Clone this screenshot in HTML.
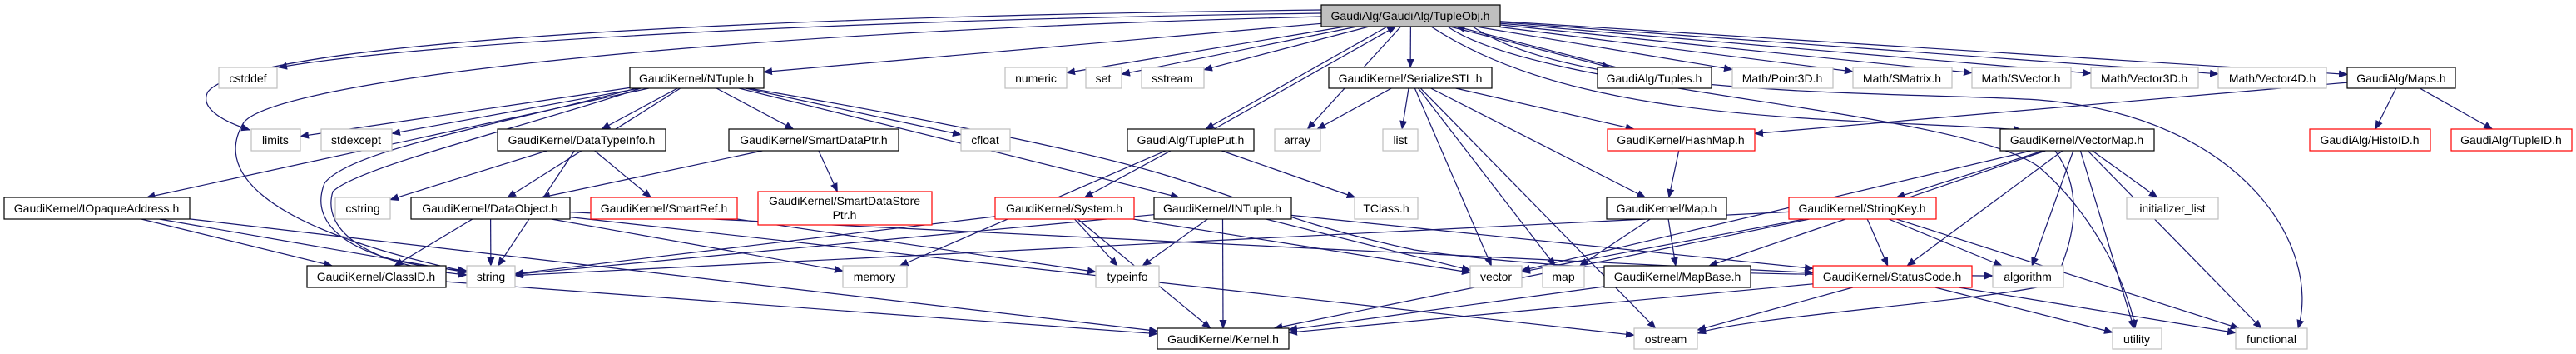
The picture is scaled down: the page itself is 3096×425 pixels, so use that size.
<!DOCTYPE html>
<html><head><meta charset="utf-8">
<style>
html,body{margin:0;padding:0;background:#fff;}
svg{display:block;}
text{font-family:"Liberation Sans","DejaVu Sans",sans-serif;font-size:14px;fill:#000;}
</style></head>
<body>
<svg id="g" width="3096" height="425" viewBox="0 0 3096 425" xmlns="http://www.w3.org/2000/svg">
<defs>
<marker id="ah" markerWidth="11" markerHeight="9" refX="10" refY="4.5" orient="auto" markerUnits="userSpaceOnUse">
<path d="M0,0 L11,4.5 L0,9 Z" fill="#191970"/>
</marker>
</defs>
<g fill="none" stroke="#191970" stroke-width="1.2">
<path d="M1588,12 C900,20 300,50 250,110 C238,132 275,148 300,156" marker-end="url(#ah)"/>
<path d="M1588,20 C800,40 330,100 293,147 C260,200 300,270 560,326" marker-end="url(#ah)"/>
<path d="M1588,16 C1000,24 500,52 335,81" marker-end="url(#ah)"/>
<path d="M1770,32 C1900,120 2300,110 2450,120 C2700,140 2790,300 2762,394" marker-end="url(#ah)"/>
<path d="M1740,32 C1850,110 2350,130 2450,200 C2520,260 2560,350 2566,394" marker-end="url(#ah)"/>
<path d="M1720,32 C1900,150 2200,140 2430,156" marker-end="url(#ah)"/>
<path d="M765,106 C600,150 420,180 390,220 C370,270 420,315 561,325" marker-end="url(#ah)"/>
<path d="M770,106 C640,150 430,200 400,230 C385,280 450,320 561,330" marker-end="url(#ah)"/>
<path d="M900,106 C1100,140 1300,180 1400,210 C1500,240 1560,270 1700,300 C1900,330 2200,330 2395,331" marker-end="url(#ah)"/>
<path d="M2470,181 C2520,250 2470,330 2470,340 C2400,360 2100,380 2040,400" marker-end="url(#ah)"/>
</g>
<g id="edges2" fill="none" stroke="#191970" stroke-width="1.2"></g>
<g stroke-width="1.2">
<rect x="1588" y="6" width="215" height="26" fill="#bfbfbf" stroke="#000"/><text x="1695" y="24" text-anchor="middle">GaudiAlg/GaudiAlg/TupleObj.h</text>
<rect x="263" y="81" width="70" height="25" fill="#fff" stroke="#bfbfbf"/><text x="298" y="99" text-anchor="middle">cstddef</text>
<rect x="757" y="81" width="161" height="25" fill="#fff" stroke="#000"/><text x="837" y="99" text-anchor="middle">GaudiKernel/NTuple.h</text>
<rect x="1208" y="81" width="74" height="25" fill="#fff" stroke="#bfbfbf"/><text x="1245" y="99" text-anchor="middle">numeric</text>
<rect x="1305" y="81" width="43" height="25" fill="#fff" stroke="#bfbfbf"/><text x="1326" y="99" text-anchor="middle">set</text>
<rect x="1372" y="81" width="75" height="25" fill="#fff" stroke="#bfbfbf"/><text x="1409" y="99" text-anchor="middle">sstream</text>
<rect x="1597" y="81" width="196" height="25" fill="#fff" stroke="#000"/><text x="1695" y="99" text-anchor="middle">GaudiKernel/SerializeSTL.h</text>
<rect x="1920" y="81" width="137" height="25" fill="#fff" stroke="#000"/><text x="1988" y="99" text-anchor="middle">GaudiAlg/Tuples.h</text>
<rect x="2082" y="81" width="121" height="25" fill="#fff" stroke="#bfbfbf"/><text x="2142" y="99" text-anchor="middle">Math/Point3D.h</text>
<rect x="2227" y="81" width="119" height="25" fill="#fff" stroke="#bfbfbf"/><text x="2286" y="99" text-anchor="middle">Math/SMatrix.h</text>
<rect x="2370" y="81" width="119" height="25" fill="#fff" stroke="#bfbfbf"/><text x="2429" y="99" text-anchor="middle">Math/SVector.h</text>
<rect x="2513" y="81" width="129" height="25" fill="#fff" stroke="#bfbfbf"/><text x="2577" y="99" text-anchor="middle">Math/Vector3D.h</text>
<rect x="2666" y="81" width="130" height="25" fill="#fff" stroke="#bfbfbf"/><text x="2731" y="99" text-anchor="middle">Math/Vector4D.h</text>
<rect x="2821" y="81" width="130" height="25" fill="#fff" stroke="#000"/><text x="2886" y="99" text-anchor="middle">GaudiAlg/Maps.h</text>
<rect x="302" y="155" width="59" height="26" fill="#fff" stroke="#bfbfbf"/><text x="331" y="173" text-anchor="middle">limits</text>
<rect x="386" y="155" width="85" height="26" fill="#fff" stroke="#bfbfbf"/><text x="428" y="173" text-anchor="middle">stdexcept</text>
<rect x="598" y="155" width="202" height="26" fill="#fff" stroke="#000"/><text x="699" y="173" text-anchor="middle">GaudiKernel/DataTypeInfo.h</text>
<rect x="876" y="155" width="204" height="26" fill="#fff" stroke="#000"/><text x="978" y="173" text-anchor="middle">GaudiKernel/SmartDataPtr.h</text>
<rect x="1155" y="155" width="59" height="26" fill="#fff" stroke="#bfbfbf"/><text x="1184" y="173" text-anchor="middle">cfloat</text>
<rect x="1355" y="155" width="152" height="26" fill="#fff" stroke="#000"/><text x="1431" y="173" text-anchor="middle">GaudiAlg/TuplePut.h</text>
<rect x="1532" y="155" width="55" height="26" fill="#fff" stroke="#bfbfbf"/><text x="1559" y="173" text-anchor="middle">array</text>
<rect x="1662" y="155" width="42" height="26" fill="#fff" stroke="#bfbfbf"/><text x="1683" y="173" text-anchor="middle">list</text>
<rect x="1932" y="155" width="177" height="26" fill="#fff" stroke="#ff0000"/><text x="2020" y="173" text-anchor="middle">GaudiKernel/HashMap.h</text>
<rect x="2404" y="155" width="185" height="26" fill="#fff" stroke="#000"/><text x="2496" y="173" text-anchor="middle">GaudiKernel/VectorMap.h</text>
<rect x="2776" y="155" width="145" height="26" fill="#fff" stroke="#ff0000"/><text x="2848" y="173" text-anchor="middle">GaudiAlg/HistoID.h</text>
<rect x="2946" y="155" width="145" height="26" fill="#fff" stroke="#ff0000"/><text x="3018" y="173" text-anchor="middle">GaudiAlg/TupleID.h</text>
<rect x="5" y="237" width="223" height="26" fill="#fff" stroke="#000"/><text x="116" y="255" text-anchor="middle">GaudiKernel/IOpaqueAddress.h</text>
<rect x="403" y="237" width="66" height="26" fill="#fff" stroke="#bfbfbf"/><text x="436" y="255" text-anchor="middle">cstring</text>
<rect x="494" y="237" width="191" height="26" fill="#fff" stroke="#000"/><text x="589" y="255" text-anchor="middle">GaudiKernel/DataObject.h</text>
<rect x="710" y="237" width="176" height="26" fill="#fff" stroke="#ff0000"/><text x="798" y="255" text-anchor="middle">GaudiKernel/SmartRef.h</text>
<rect x="911" y="230" width="209" height="40" fill="#fff" stroke="#ff0000"/><text x="1015" y="246" text-anchor="middle">GaudiKernel/SmartDataStore</text><text x="1015" y="263" text-anchor="middle">Ptr.h</text>
<rect x="1196" y="237" width="167" height="26" fill="#fff" stroke="#ff0000"/><text x="1279" y="255" text-anchor="middle">GaudiKernel/System.h</text>
<rect x="1387" y="237" width="165" height="26" fill="#fff" stroke="#000"/><text x="1469" y="255" text-anchor="middle">GaudiKernel/INTuple.h</text>
<rect x="1628" y="237" width="76" height="26" fill="#fff" stroke="#bfbfbf"/><text x="1666" y="255" text-anchor="middle">TClass.h</text>
<rect x="1931" y="237" width="144" height="26" fill="#fff" stroke="#000"/><text x="2003" y="255" text-anchor="middle">GaudiKernel/Map.h</text>
<rect x="2150" y="237" width="177" height="26" fill="#fff" stroke="#ff0000"/><text x="2238" y="255" text-anchor="middle">GaudiKernel/StringKey.h</text>
<rect x="2556" y="237" width="110" height="26" fill="#fff" stroke="#bfbfbf"/><text x="2611" y="255" text-anchor="middle">initializer_list</text>
<rect x="369" y="319" width="167" height="26" fill="#fff" stroke="#000"/><text x="452" y="337" text-anchor="middle">GaudiKernel/ClassID.h</text>
<rect x="561" y="319" width="58" height="26" fill="#fff" stroke="#bfbfbf"/><text x="590" y="337" text-anchor="middle">string</text>
<rect x="1013" y="319" width="77" height="26" fill="#fff" stroke="#bfbfbf"/><text x="1051" y="337" text-anchor="middle">memory</text>
<rect x="1317" y="319" width="76" height="26" fill="#fff" stroke="#bfbfbf"/><text x="1355" y="337" text-anchor="middle">typeinfo</text>
<rect x="1767" y="319" width="62" height="26" fill="#fff" stroke="#bfbfbf"/><text x="1798" y="337" text-anchor="middle">vector</text>
<rect x="1854" y="319" width="50" height="26" fill="#fff" stroke="#bfbfbf"/><text x="1879" y="337" text-anchor="middle">map</text>
<rect x="1928" y="319" width="176" height="26" fill="#fff" stroke="#000"/><text x="2016" y="337" text-anchor="middle">GaudiKernel/MapBase.h</text>
<rect x="2179" y="319" width="191" height="26" fill="#fff" stroke="#ff0000"/><text x="2274" y="337" text-anchor="middle">GaudiKernel/StatusCode.h</text>
<rect x="2395" y="319" width="85" height="26" fill="#fff" stroke="#bfbfbf"/><text x="2437" y="337" text-anchor="middle">algorithm</text>
<rect x="1391" y="394" width="158" height="25" fill="#fff" stroke="#000"/><text x="1470" y="412" text-anchor="middle">GaudiKernel/Kernel.h</text>
<rect x="1964" y="394" width="76" height="25" fill="#fff" stroke="#bfbfbf"/><text x="2002" y="412" text-anchor="middle">ostream</text>
<rect x="2539" y="394" width="59" height="25" fill="#fff" stroke="#bfbfbf"/><text x="2568" y="412" text-anchor="middle">utility</text>
<rect x="2687" y="394" width="86" height="25" fill="#fff" stroke="#bfbfbf"/><text x="2730" y="412" text-anchor="middle">functional</text>
</g>
</svg>
<script>
(function(){
var g=document.getElementById("edges2");
while(g.firstChild)g.removeChild(g.firstChild);
var N={TO:[1588,1803,6,32],NT:[757,918,81,106],numeric:[1208,1282,81,106],set:[1305,1348,81,106],sstream:[1372,1447,81,106],SS:[1597,1793,81,106],Tuples:[1920,2057,81,106],P3:[2082,2203,81,106],SM:[2227,2346,81,106],SV:[2370,2489,81,106],V3:[2513,2642,81,106],V4:[2666,2796,81,106],Maps:[2821,2951,81,106],
limits:[302,361,155,181],stdexcept:[386,471,155,181],DTI:[598,800,155,181],SDP:[876,1080,155,181],cfloat:[1155,1214,155,181],TP:[1355,1507,155,181],array:[1532,1587,155,181],list:[1662,1704,155,181],HM:[1932,2109,155,181],VM:[2404,2589,155,181],HID:[2776,2921,155,181],TID:[2946,3091,155,181],
IOA:[5,228,237,263],cstring:[403,469,237,263],DO:[494,685,237,263],SR:[710,886,237,263],SDSP:[911,1120,230,270],Sys:[1196,1363,237,263],INT:[1387,1552,237,263],TClass:[1628,1704,237,263],Map:[1931,2075,237,263],SK:[2150,2327,237,263],IL:[2556,2666,237,263],
CID:[369,536,319,345],string:[561,619,319,345],memory:[1013,1090,319,345],typeinfo:[1317,1393,319,345],vector:[1767,1829,319,345],map:[1854,1904,319,345],MB:[1928,2104,319,345],SC:[2179,2370,319,345],algorithm:[2395,2480,319,345],
Kernel:[1391,1549,394,419],ostream:[1964,2040,394,419],utility:[2539,2598,394,419],functional:[2687,2773,394,419]};
var E=[["TO","NT"],["TO","numeric"],["TO","set"],["TO","sstream"],["TO","TP",-5],["TO","array"],["TO","SS"],["TO","Tuples",-4],["TO","P3"],["TO","SM"],["TO","SV"],["TO","V3"],["TO","V4"],["TO","Maps"],
["Tuples","TO",4],["TP","TO",5],
["NT","limits"],["NT","stdexcept"],["NT","IOA"],["NT","DTI"],["NT","SDP"],["NT","cfloat"],["NT","INT"],["NT","DO"],
["DTI","cstring"],["DTI","string"],["DTI","SR"],["SDP","DO"],["SDP","SDSP"],["SR","typeinfo"],
["IOA","CID"],["IOA","string"],["IOA","Kernel"],["DO","CID"],["DO","string"],["DO","memory"],["DO","SC"],["DO","ostream"],["CID","Kernel"],
["TP","memory"],["TP","Sys"],["TP","TClass"],["Sys","string"],["Sys","typeinfo"],["Sys","Kernel"],["Sys","vector"],
["INT","string"],["INT","typeinfo"],["INT","Kernel"],["INT","SC"],["INT","vector"],
["SS","array"],["SS","list"],["SS","vector"],["SS","map"],["SS","ostream"],["SS","Map"],["SS","HM"],
["HM","Map"],["Map","map"],["Map","MB"],["MB","Kernel"],
["VM","vector"],["VM","SK"],["VM","IL"],["VM","algorithm"],["VM","SC"],["VM","MB"],["VM","utility"],["VM","functional"],
["Maps","HM"],["Maps","HID"],["Maps","TID"],
["SK","string"],["SK","vector"],["SK","SC"],["SK","algorithm"],["SK","functional"],["SK","Kernel"],
["SC","Kernel"],["SC","ostream"],["SC","utility"],["SC","functional"]];
var ns="http://www.w3.org/2000/svg";
function clip(b,px,py){var cx=(b[0]+b[1])/2,cy=(b[2]+b[3])/2,hw=(b[1]-b[0])/2,hh=(b[3]-b[2])/2,dx=px-cx,dy=py-cy;
 var t=1e9;if(dx!==0)t=Math.min(t,hw/Math.abs(dx));if(dy!==0)t=Math.min(t,hh/Math.abs(dy));return [cx+dx*t,cy+dy*t];}
E.forEach(function(e){var A=N[e[0]],B=N[e[1]];if(!A||!B)return;var o=e[2]||0;
var ac=[(A[0]+A[1])/2+o,(A[2]+A[3])/2],bc=[(B[0]+B[1])/2+o,(B[2]+B[3])/2];
var s=clip([A[0]+o,A[1]+o,A[2],A[3]],bc[0],bc[1]),t=clip([B[0]+o,B[1]+o,B[2],B[3]],ac[0],ac[1]);
var p=document.createElementNS(ns,"path");p.setAttribute("d","M"+s[0].toFixed(1)+","+s[1].toFixed(1)+" L"+t[0].toFixed(1)+","+t[1].toFixed(1));
p.setAttribute("marker-end","url(#ah)");g.appendChild(p);});
})();
</script>
</body></html>
